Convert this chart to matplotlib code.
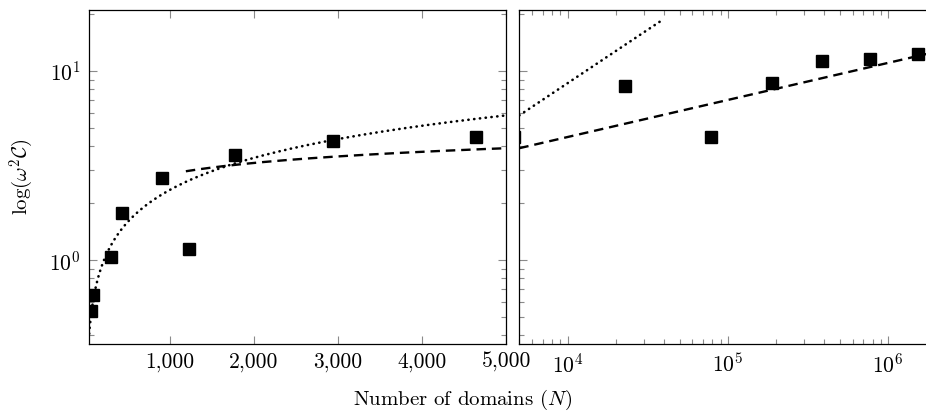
import numpy as np
import matplotlib
matplotlib.use("Agg")
import matplotlib.pyplot as plt
from matplotlib.ticker import FixedLocator, FuncFormatter, LogLocator, NullFormatter, NullLocator

plt.rcParams['font.family'] = 'serif'
plt.rcParams['font.serif'] = ['cmr10', 'DejaVu Serif']
plt.rcParams['mathtext.fontset'] = 'cm'
plt.rcParams['axes.formatter.use_mathtext'] = True
plt.rcParams['axes.unicode_minus'] = False

n_small = [65, 97, 299, 437, 905, 1233, 1779, 2943, 4641]
c_small = [0.537, 0.655, 1.04, 1.78, 2.71, 1.15, 3.59, 4.25, 4.46]
n_large = [22750, 78700, 187500, 386000, 774000, 1530000]
c_large = [8.30, 4.49, 8.67, 11.34, 11.57, 12.35]

# power-law fits  C = a * N**b  and the N range each is drawn over
dotted_fit = (0.0473, 0.565)
dotted_range = (40, 40000)
dashed_fit = (0.735, 0.196)
dashed_range = (1194, 2.0e6)

x_ticks_left = [1000, 2000, 3000, 4000, 5000]
ylim = (0.36, 20.9)

fig = plt.figure(figsize=(9.26, 4.19), dpi=100)
axl = fig.add_axes([88.7 / 926, 1 - 344 / 419, (506.3 - 88.7) / 926, (344 - 10.3) / 419])
axr = fig.add_axes([519.3 / 926, 1 - 344 / 419, (936.4 - 519.3) / 926, (344 - 10.3) / 419])


def curve(fit, rng, lo, hi):
    a, b = fit
    n = np.geomspace(max(rng[0], lo), min(rng[1], hi), 400)
    return n, a * n ** b


for ax, lo, hi in [(axl, 40, 5000), (axr, 5000, 2.0e6)]:
    n, c = curve(dotted_fit, dotted_range, lo, hi)
    ax.plot(n, c, color='black', lw=1.9, linestyle=(0, (0.1, 2.1)), dash_capstyle='round')
    n, c = curve(dashed_fit, dashed_range, lo, hi)
    ax.plot(n, c, color='black', lw=1.7, linestyle=(0, (4.0, 2.5)))
    ax.plot(n_small, c_small, 's', color='black', ms=8)
    ax.plot(n_large, c_large, 's', color='black', ms=8)
    ax.set_yscale('log')
    ax.set_ylim(*ylim)
    ax.set_xlim(lo, hi)
    for s in ax.spines.values():
        s.set_linewidth(0.9)
    ax.tick_params(which='both', direction='in', top=True, right=True,
                   color='#8a8a8a', width=0.8, labelsize=15.5)
    ax.tick_params(which='major', length=6)
    ax.tick_params(which='minor', length=3.5)

axl.xaxis.set_major_locator(FixedLocator(x_ticks_left))
axl.xaxis.set_minor_locator(NullLocator())
axl.xaxis.set_major_formatter(FuncFormatter(lambda v, _: f"{v:,.0f}"))
axl.tick_params(axis='x', pad=6)
axl.tick_params(axis='y', pad=6)

axr.set_xscale('log')
axr.xaxis.set_major_locator(LogLocator(base=10))
axr.xaxis.set_minor_locator(LogLocator(base=10, subs=np.arange(2, 10)))
axr.xaxis.set_minor_formatter(NullFormatter())
axr.tick_params(axis='x', pad=6)
axr.yaxis.set_major_formatter(NullFormatter())
axr.yaxis.set_minor_formatter(NullFormatter())

fig.text(463 / 926, 1 - 400 / 419, 'Number of domains ($N$)', ha='center', va='center', fontsize=15)
fig.text(22 / 926, 1 - 177 / 419, r'$\log(\omega^2\mathcal{C})$', ha='center', va='center',
         rotation=90, fontsize=15)

fig.savefig('out.png', dpi=100)
